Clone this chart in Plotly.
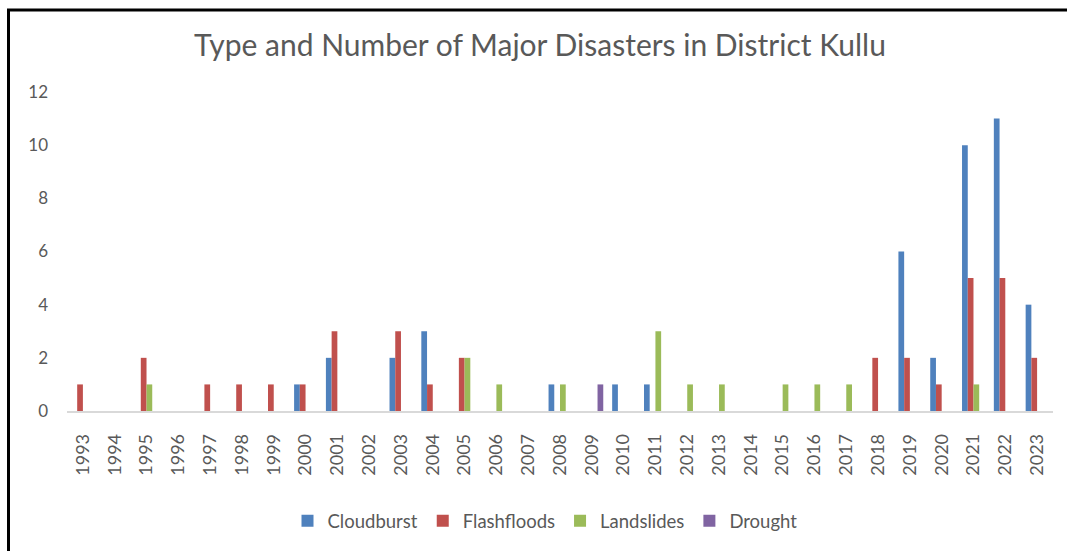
import plotly.graph_objects as go

# Years and event counts per disaster type
years = ["1993", "1994", "1995", "1996", "1997", "1998", "1999", "2000", "2001",
         "2002", "2003", "2004", "2005", "2006", "2007", "2008", "2009", "2010",
         "2011", "2012", "2013", "2014", "2015", "2016", "2017", "2018", "2019",
         "2020", "2021", "2022", "2023"]

cloudburst = [0, 0, 0, 0, 0, 0, 0, 1, 2, 0, 2, 3, 0, 0, 0, 1, 0, 1, 1, 0, 0, 0,
              0, 0, 0, 0, 6, 2, 10, 11, 4]
flashfloods = [1, 0, 2, 0, 1, 1, 1, 1, 3, 0, 3, 1, 2, 0, 0, 0, 0, 0, 0, 0, 0, 0,
               0, 0, 0, 2, 2, 1, 5, 5, 2]
landslides = [0, 0, 1, 0, 0, 0, 0, 0, 0, 0, 0, 0, 2, 1, 0, 1, 0, 0, 3, 1, 1, 0,
              1, 1, 1, 0, 0, 0, 1, 0, 0]
drought = [0, 0, 0, 0, 0, 0, 0, 0, 0, 0, 0, 0, 0, 0, 0, 0, 1, 0, 0, 0, 0, 0,
           0, 0, 0, 0, 0, 0, 0, 0, 0]

series = [
    ("Cloudburst", cloudburst, "#4F81BD"),
    ("Flashfloods", flashfloods, "#C0504D"),
    ("Landslides", landslides, "#9BBB59"),
    ("Drought", drought, "#8064A2"),
]

W, H = 1067, 551
ML, MR, MT, MB = 67, 14, 92, 138.5
PW = W - ML - MR
PH = H - MT - MB

FONT = "Lato"
GREY = "#595959"

fig = go.Figure()
for name, vals, color in series:
    fig.add_trace(go.Bar(name=name, x=years, y=vals, marker_color=color,
                         marker_line_width=0))


def px_x(p):
    return (p - ML) / PW


def px_y(p):
    return (H - MB - p) / PH


fig.update_layout(
    width=W, height=H,
    margin=dict(l=ML, r=MR, t=MT, b=MB),
    paper_bgcolor="white", plot_bgcolor="white",
    barmode="group", bargap=0.28, bargroupgap=0,
    font=dict(family=FONT, color=GREY, size=16),
    title=dict(text="Type and Number of Major Disasters in District Kullu",
               x=540 / W, xanchor="center", y=1 - 45 / H, yanchor="middle",
               font=dict(family=FONT, size=30, color=GREY)),
    xaxis=dict(type="category", showgrid=False, showline=True,
               linecolor="#D9D9D9", linewidth=1.5, tickangle=-90,
               ticks="", ticklabelstandoff=14,
               tickfont=dict(family=FONT, size=18, color=GREY)),
    yaxis=dict(range=[0, 12], dtick=2, showgrid=False, showline=False,
               zeroline=False, ticks="", ticklabelstandoff=18,
               tickfont=dict(family=FONT, size=17, color=GREY)),
    legend=dict(orientation="h", x=px_x(545), xanchor="center",
                y=px_y(522), yanchor="middle",
                font=dict(family=FONT, size=18.5, color=GREY),
                itemwidth=30, traceorder="normal"),
    showlegend=True,
    shapes=[dict(type="rect", xref="paper", yref="paper",
                 x0=px_x(8.5), x1=px_x(W + 20), y0=px_y(H + 20), y1=px_y(9.5),
                 line=dict(color="black", width=3), layer="above")],
)

fig.write_html("out.html")
